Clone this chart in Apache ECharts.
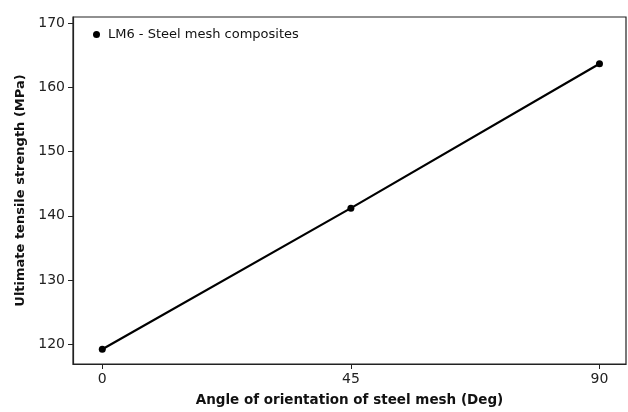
<!DOCTYPE html>
<html>
<head>
<meta charset="utf-8">
<script src="https://cdn.jsdelivr.net/npm/echarts@6.0.0/dist/echarts.min.js"></script>
<style>
  html, body { margin: 0; padding: 0; background: #fff; }
  #mainPlot { width: 628px; height: 412px; }
</style>
</head>
<body>
<div id="mainPlot"></div>
<script>
const angles = [0, 45, 90];
const strength = [119.2, 141.2, 163.7];
const xTicks = [0, 45, 90];
const yTicks = [120, 130, 140, 150, 160, 170];
const seriesName = "LM6 - Steel mesh composites";

const font = "DejaVu Sans, Verdana, sans-serif";
const chart = echarts.init(document.getElementById("mainPlot"));

chart.setOption({
  animation: false,
  grid: {
    left: 73,
    right: 2,
    top: 17,
    bottom: 46,
    show: true,
    borderColor: "#222",
    borderWidth: 1.2,
  },
  legend: {
    left: 88,
    top: 23,
    icon: "circle",
    itemWidth: 7,
    itemHeight: 7,
    itemGap: 0,
    textStyle: { fontFamily: font, fontSize: 13, color: "#111", padding: [0, 0, 0, 3] },
    data: [seriesName],
  },
  xAxis: {
    type: "value",
    min: -5.3,
    max: 94.8,
    name: "Angle of orientation of steel mesh (Deg)",
    nameLocation: "middle",
    nameGap: 29,
    nameTextStyle: { fontFamily: font, fontSize: 13.5, fontWeight: "bold", color: "#111" },
    axisLine: { show: true, onZero: false, lineStyle: { color: "#222", width: 1.2 } },
    axisTick: { show: true, customValues: xTicks, length: 5, lineStyle: { color: "#222" } },
    axisLabel: { customValues: xTicks, fontFamily: font, fontSize: 14, color: "#222", margin: 8 },
    splitLine: { show: false },
  },
  yAxis: {
    type: "value",
    min: 116.9,
    max: 171,
    name: "Ultimate tensile strength (MPa)",
    nameLocation: "middle",
    nameGap: 46,
    nameTextStyle: { fontFamily: font, fontSize: 13, fontWeight: "bold", color: "#111" },
    axisLine: { show: true, onZero: false, lineStyle: { color: "#222", width: 1.2 } },
    axisTick: { show: true, customValues: yTicks, length: 5, lineStyle: { color: "#222" } },
    axisLabel: { customValues: yTicks, fontFamily: font, fontSize: 14, color: "#222", margin: 8 },
    splitLine: { show: false },
  },
  series: [
    {
      name: seriesName,
      type: "line",
      data: angles.map((a, i) => [a, strength[i]]),
      symbol: "circle",
      symbolSize: 7,
      itemStyle: { color: "#000" },
      lineStyle: { color: "#000", width: 2.2 },
    },
  ],
});
</script>
</body>
</html>
